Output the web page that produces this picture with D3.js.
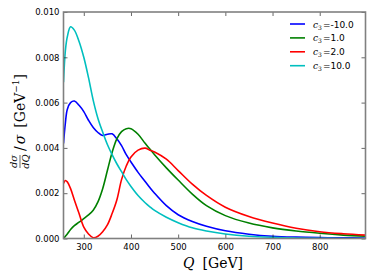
<!DOCTYPE html>
<html>
<head>
<meta charset="utf-8">
<script src="https://cdn.jsdelivr.net/npm/d3@7"></script>
<style>
  body { margin: 0; background: #fff; }
  text { font-family: "DejaVu Sans", sans-serif; }
  .serif { font-family: "DejaVu Serif", "Liberation Serif", serif; }
</style>
</head>
<body>
<svg id="chart" width="374" height="280"></svg>
<script>
// Q grid [GeV]
const q = [257, 261, 265, 272, 280, 290, 300, 310, 320, 330, 340, 350, 360, 370, 380, 390,
  400, 415, 430, 440, 450, 475, 500, 530, 560, 600, 650, 700, 750, 800, 850, 897];

const cm10 = [0.0042, 0.0051, 0.0057, 0.0060, 0.00607, 0.00588, 0.0056, 0.00522, 0.0049, 0.00468, 0.00455, 0.0046,
  0.00462, 0.0044, 0.0041, 0.0037, 0.00338, 0.00292, 0.00252, 0.00225, 0.002, 0.00145, 0.00105, 0.00075, 0.00054,
  0.00034, 0.00019, 0.0001, 0.00006, 0.00004, 0.00003, 0.00002];
const c1 = [0.0, 0.0001, 0.0002, 0.0004, 0.00057, 0.00072, 0.00088, 0.00104, 0.00125, 0.00162, 0.0022, 0.0030,
  0.0038, 0.0044, 0.00472, 0.00485, 0.00485, 0.0046, 0.0042, 0.00395, 0.0037, 0.00312, 0.00258, 0.00196, 0.00145,
  0.00101, 0.00068, 0.00047, 0.00033, 0.00023, 0.00015, 0.0001];
const c2 = [0.00243, 0.00256, 0.0025, 0.0022, 0.0017, 0.0011, 0.0005, 0.0002, 0.00003, 0.0001, 0.0003, 0.0006,
  0.0011, 0.0017, 0.0026, 0.0032, 0.0036, 0.0039, 0.00399, 0.0039, 0.00382, 0.0035, 0.0030, 0.0024, 0.0019,
  0.00138, 0.00097, 0.00068, 0.00045, 0.0003, 0.00021, 0.00015];
const c10 = [0.0069, 0.0083, 0.0089, 0.00935, 0.0092, 0.0087, 0.0080, 0.0071, 0.0061, 0.0053, 0.0047, 0.00415,
  0.0037, 0.0033, 0.00295, 0.0026, 0.0023, 0.0019, 0.00158, 0.0014, 0.00124, 0.00094, 0.0007, 0.00047, 0.00033,
  0.0002, 0.0001, 0.00005, 0.00002, 0.00001, 0.0, 0.0];

const seriesNames = ["-10.0", "1.0", "2.0", "10.0"];
const seriesColors = ["#0000ff", "#008000", "#ff0000", "#00bfbf"];
const seriesValues = [cm10, c1, c2, c10];

const xTicks = [300, 400, 500, 600, 700, 800];
const yTicks = [0, 0.002, 0.004, 0.006, 0.008, 0.010];

const svg = d3.select("#chart");
const pLeft = 63.5, pRight = 365.5, pTop = 12, pBottom = 238.5;

const x = d3.scaleLinear().domain([257, 897]).range([pLeft, pRight]);
const y = d3.scaleLinear().domain([0, 0.010]).range([pBottom, pTop]);

// curves
const line = d3.line()
  .x(d => x(d[0]))
  .y(d => y(d[1]))
  .curve(d3.curveCatmullRom.alpha(0.5));

svg.append("clipPath").attr("id", "clip")
  .append("rect").attr("x", pLeft).attr("y", pTop)
  .attr("width", pRight - pLeft).attr("height", pBottom - pTop);

const plot = svg.append("g").attr("clip-path", "url(#clip)");
seriesValues.forEach((vals, i) => {
  plot.append("path")
    .datum(q.map((d, j) => [d, vals[j]]))
    .attr("fill", "none")
    .attr("stroke", seriesColors[i])
    .attr("stroke-width", 1.6)
    .attr("d", line);
});

// axes (ticks inward, matplotlib style)
const axisColor = "#808080";
function styleAxis(g, hideText) {
  g.select(".domain").remove();
  g.selectAll(".tick line").attr("stroke", "#000").attr("stroke-width", 0.6);
  g.selectAll(".tick text").attr("fill", "#000").style("font-size", "8.5px");
  if (hideText) g.selectAll(".tick text").remove();
}
svg.append("g").attr("transform", `translate(0,${pBottom})`)
  .call(d3.axisBottom(x).tickValues(xTicks).tickSize(-4).tickPadding(5).tickFormat(d3.format("d")))
  .call(g => styleAxis(g, false));
svg.append("g").attr("transform", `translate(0,${pTop})`)
  .call(d3.axisTop(x).tickValues(xTicks).tickSize(-4).tickFormat(""))
  .call(g => styleAxis(g, true));
svg.append("g").attr("transform", `translate(${pLeft},0)`)
  .call(d3.axisLeft(y).tickValues(yTicks).tickSize(-4).tickPadding(4).tickFormat(d3.format(".3f")))
  .call(g => styleAxis(g, false));
svg.append("g").attr("transform", `translate(${pRight},0)`)
  .call(d3.axisRight(y).tickValues(yTicks).tickSize(-4).tickFormat(""))
  .call(g => styleAxis(g, true));

svg.append("rect")
  .attr("x", pLeft).attr("y", pTop)
  .attr("width", pRight - pLeft).attr("height", pBottom - pTop)
  .attr("fill", "none").attr("stroke", axisColor).attr("stroke-width", 1.6);

// x label
const xl = svg.append("text").attr("class", "serif")
  .attr("x", 213).attr("y", 268).attr("text-anchor", "middle")
  .style("font-size", "14px");
xl.append("tspan").style("font-style", "italic").text("Q");
xl.append("tspan").attr("dx", 8).text("[GeV]");

// y label: dσ/dQ / σ [GeV^-1], rotated
const yl = svg.append("g").attr("transform", "translate(22,168) rotate(-90)");
yl.append("text").attr("class", "serif").attr("x", 6.5).attr("y", -5)
  .attr("text-anchor", "middle").style("font-size", "10px").style("font-style", "italic").text("dσ");
yl.append("line").attr("x1", 0).attr("x2", 13).attr("y1", -2).attr("y2", -2)
  .attr("stroke", "#000").attr("stroke-width", 0.6);
yl.append("text").attr("class", "serif").attr("x", 6.5).attr("y", 7)
  .attr("text-anchor", "middle").style("font-size", "10px").style("font-style", "italic").text("dQ");
const yt = yl.append("text").attr("class", "serif").attr("x", 17).attr("y", 3)
  .style("font-size", "14px");
yt.append("tspan").text("/");
yt.append("tspan").attr("dx", 2).style("font-style", "italic").text("σ");
yt.append("tspan").attr("dx", 7).text("[GeV");
yt.append("tspan").attr("dy", -6).style("font-size", "9px").text("−1");
yt.append("tspan").attr("dy", 6).text("]");

// legend
const legend = svg.append("g");
seriesNames.forEach((name, i) => {
  const ly = 24 + i * 13.9;
  legend.append("line")
    .attr("x1", 290).attr("x2", 305).attr("y1", ly).attr("y2", ly)
    .attr("stroke", seriesColors[i]).attr("stroke-width", 1.6);
  const t = legend.append("text").attr("x", 313).attr("y", ly + 3.5).style("font-size", "9px");
  t.append("tspan").attr("class", "serif").style("font-style", "italic").text("c");
  t.append("tspan").attr("class", "serif").attr("dy", 2).style("font-size", "6px").text("3");
  t.append("tspan").attr("dy", -2).attr("dx", 1).text("=" + name);
});
</script>
</body>
</html>
